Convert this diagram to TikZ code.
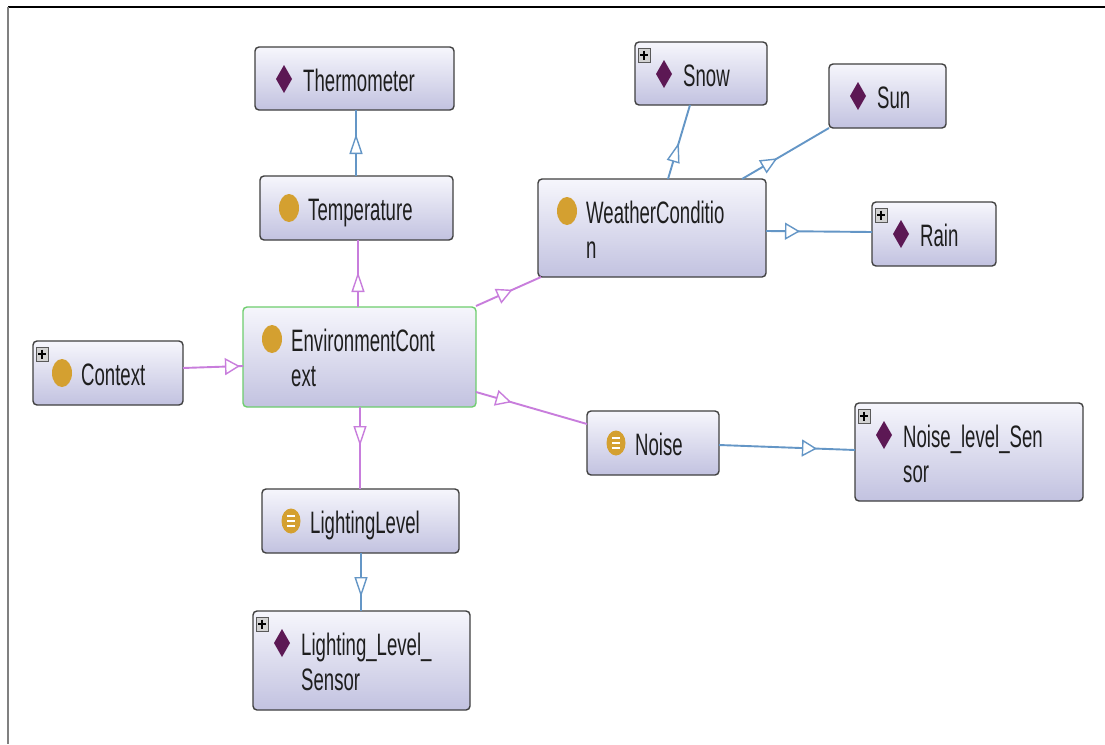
\documentclass[tikz,border=0pt]{standalone}
\usepackage{fontspec}
\setmainfont{Liberation Sans}[FakeStretch=0.6]
\usetikzlibrary{arrows.meta,decorations.markings,fit,calc}
\definecolor{gold}{RGB}{212,160,48}
\definecolor{purp}{RGB}{92,24,84}
\definecolor{bl}{RGB}{100,150,198}
\definecolor{pk}{RGB}{200,125,220}
\definecolor{bd}{RGB}{64,64,64}
\definecolor{gr}{RGB}{110,205,110}
\definecolor{boxtop}{RGB}{246,246,252}
\definecolor{boxbot}{RGB}{194,194,224}
\definecolor{txt}{RGB}{30,30,30}
\tikzset{
  box/.style={draw=bd, line width=1.4pt, rounded corners=4pt, top color=boxtop, bottom color=boxbot, inner sep=0pt, outer sep=0pt},
  lbl/.style={anchor=base west, inner sep=0pt, text=txt, font=\fontsize{31}{35}\selectfont},
  plusbox/.style={draw=gray!70!black, fill=gray!35, minimum width=12pt, minimum height=14pt, inner sep=0pt, line width=0.7pt},
  blueline/.style={bl, line width=1.9pt},
  pinkline/.style={pk, line width=1.9pt},
  arr/.style 2 args={postaction={decorate}, decoration={markings, mark=at position #1 with {\arrow{Triangle[#2,fill=white,line width=1.4pt]}}}},
}
\newcommand\obox[6]{\node[box,#6,fit={(#2,#3) (#4,#5)}] (#1) {};}
\newcommand\clsicon[1]{\fill[gold] ($(#1.north west)+(29,32)$) ellipse [x radius=10pt, y radius=14pt];}
\newcommand\indicon[1]{\fill[purp] ($(#1.north west)+(29,32)$) ++(0,-14) -- ++(8,14) -- ++(-8,14) -- ++(-8,-14) -- cycle;}
\newcommand\dataicon[1]{\fill[gold] ($(#1.north west)+(29,32)$) ellipse [x radius=9.5pt, y radius=12.5pt];
  \draw[white, line width=1.8pt] ($(#1.north west)+(25,27)$) -- +(8,0) ($(#1.north west)+(25,32)$) -- +(8,0) ($(#1.north west)+(25,37)$) -- +(8,0);}
\newcommand\plusicon[1]{\node[plusbox] (#1-p) at ($(#1.north west)+(9,13)$) {};
  \draw[line width=1.8pt] ($(#1-p)+(-4,0)$) -- ($(#1-p)+(4,0)$) ($(#1-p)+(0,-4.5)$) -- ($(#1-p)+(0,4.5)$);}
\newcommand\onelbl[2]{\node[lbl] (#1-t) at ($(#1.north west)+(48,44)$) {#2};}
\newcommand\twolbl[3]{\node[lbl] (#1-t) at ($(#1.north west)+(48,44)$) {#2};
  \node[lbl] (#1-u) at ($(#1.north west)+(48,79)$) {#3};}
\begin{document}
\begin{tikzpicture}[x=1pt,y=-1pt]
\useasboundingbox[fill=white] (0,0) rectangle (1105,744);
\draw[black, line width=2pt] (8,7) -- (1105,7);
\draw[gray, line width=2pt] (8,7) -- (8,744);

% boxes
\obox{thermo}{255}{47}{454}{110}{}
\obox{temp}{260}{176}{453}{240}{}
\obox{snow}{635}{42}{767}{105}{}
\obox{sun}{829}{64}{946}{128}{}
\obox{weather}{538}{179}{766}{277}{}
\obox{rain}{872}{202}{996}{266}{}
\obox{ctx}{33}{341}{183}{405}{}
\obox{env}{243}{307}{476}{407}{draw=gr}
\obox{noise}{587}{411}{719}{475}{}
\obox{nls}{855}{403}{1083}{501}{}
\obox{light}{262}{489}{459}{553}{}
\obox{lls}{253}{611}{470}{710}{}

% icons
\indicon{thermo}
\clsicon{temp}
\plusicon{snow}\indicon{snow}
\indicon{sun}
\clsicon{weather}
\plusicon{rain}\indicon{rain}
\plusicon{ctx}\clsicon{ctx}
\clsicon{env}
\dataicon{noise}
\plusicon{nls}\indicon{nls}
\dataicon{light}
\plusicon{lls}\indicon{lls}

% labels
\onelbl{thermo}{Thermometer}
\onelbl{temp}{Temperature}
\onelbl{snow}{Snow}
\onelbl{sun}{Sun}
\twolbl{weather}{WeatherConditio}{n}
\onelbl{rain}{Rain}
\onelbl{ctx}{Context}
\twolbl{env}{EnvironmentCont}{ext}
\onelbl{noise}{Noise}
\twolbl{nls}{Noise\_level\_Sen}{sor}
\onelbl{light}{LightingLevel}
\twolbl{lls}{Lighting\_Level\_}{Sensor}

% connectors
\draw[blueline, arr={42pt}{length=20pt,width=13pt}] ($(temp.north west)+(96,0)$) -- ($(thermo.south west)+(101,0)$);
\draw[pinkline, arr={35pt}{length=20pt,width=13pt}] ($(env.north west)+(115,0)$) -- ($(temp.south west)+(98,0)$);
\draw[pinkline, arr={57pt}{length=15pt,width=17pt}] ($(ctx.north east)+(0,27)$) -- ($(env.north west)+(0,59)$);
\draw[pinkline, arr={40pt}{length=16pt,width=16pt}] ($(env.north east)+(0,-1)$) -- ($(weather.south west)+(3,0)$);
\draw[pinkline, arr={37pt}{length=16pt,width=16pt}] ($(env.north east)+(0,85)$) -- ($(noise.north west)+(0,13)$);
\draw[pinkline, arr={39pt}{length=20pt,width=13pt}] ($(env.south west)+(117,0)$) -- ($(light.north west)+(98,0)$);
\draw[blueline, arr={44pt}{length=20pt,width=13pt}] ($(light.south west)+(99,0)$) -- ($(lls.north west)+(108,0)$);
\draw[blueline, arr={98pt}{length=15pt,width=17pt}] ($(noise.north east)+(0,34)$) -- ($(nls.north west)+(0,47)$);
\draw[blueline, arr={38pt}{length=20pt,width=13pt}] ($(weather.north west)+(130,0)$) -- ($(snow.south west)+(55,0)$);
\draw[blueline, arr={41pt}{length=17pt,width=15pt}] ($(weather.north west)+(204,0)$) -- (sun.south west);
\draw[blueline, arr={34pt}{length=15pt,width=17pt}] ($(weather.north east)+(0,52)$) -- ($(rain.north west)+(0,30)$);
\end{tikzpicture}
\end{document}
